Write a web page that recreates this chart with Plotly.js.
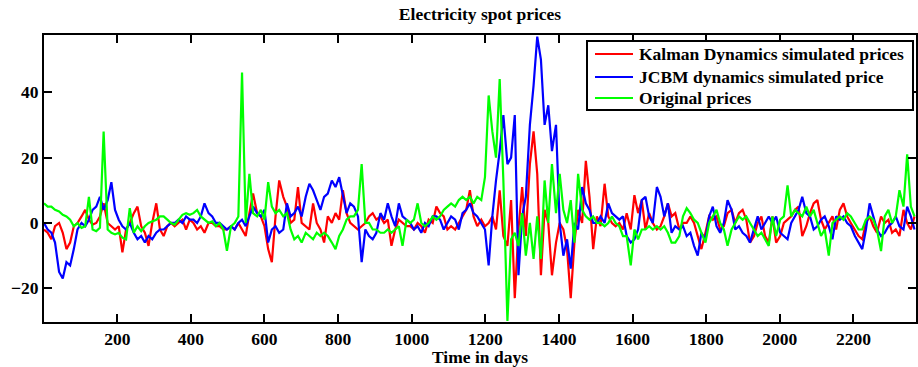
<!DOCTYPE html>
<html>
<head>
<meta charset="utf-8">
<script src="https://cdn.plot.ly/plotly-3.0.1.min.js"></script>
<style>html,body{margin:0;padding:0;background:#fff;}#chart{width:918px;height:367px;}</style>
</head>
<body>
<div id="chart"></div>
<script>
// Series names
const seriesNames = ["Kalman Dynamics simulated prices", "JCBM dynamics simulated price", "Original prices"];
// Sampling of the day axis (every ~10 days)
const dayStart = 1;
const dayStep = 10.15;
const xTickVals = [200, 400, 600, 800, 1000, 1200, 1400, 1600, 1800, 2000, 2200];
const yTickVals = [-20, 0, 20, 40];

const kalman = [
  -2,-3,-5,-1,0,-3,-8,-6,-1,0, 2,4,1,-0.5,0,2,6,0,-1,-2, -1,-9,-2,0,3,5,-1,-3,-7,0, 6,-2,-4,-1,0,-1,0,1,-2,1,
  0,-2,-1,-3,0,0,-1,-1,-2,-2, -1,-2,0,-2,-4,3,9,3,2,-1, -8,-12,2,13,8,5,0,1,11,0, -1,-2,6,0,-2,-6,2,0,3,
  1,10,3,0,-1,-2,-1,0,2,3, 1,2,0,1,-7,-2,1,0,-1,-1, -2,0,-1,-3,1,0,5,3,2,-2, -1,-2,0,2,4,10,2,-1,
  1,-1,0,2,-2,10,-4,-7,7,-23, -2,11,-4,18,28,15,-16,4,0,-16, -6,0,-2,-8,-23,-6,4,0,19,8, -8,2,-1,12,2,0,-1,0,-2,
  3,-2,8.5,3,7,-2,3,0,-2,-1, 2,6,2,3,-2,0,0,2,0,-4, -8,-3,2,1,2,-2,-1,3,4,0, 3,4,1,-6,-4,0,2,-4,-6,
  2,-6,-4,0,1,2,4,5,-4,-1, 3,6,7,1,-2,0,2,-2,4,6, 2,0,-2,-4,-5,0,2,-1,-3,2, 0,1,-3,-2,-4,4,0,-2,2
];

const jcbm = [
  0,-2,-3,-6,-15,-17,-12,-13,-8,-2, 0,-1,1,4,5,8,4,7,12.5,4, 1,-1,-2,0,-3,-5,-4,-6,-4,-5, -3,-2,-2,-1,0,0,1,0,2,1,
  1,0,2,6,3,2,0,0,-1,-2, -1,-2,0,1,-1,2,5,3,2,4, -6,-2,-1,-3,-2,6,2,3,5,2, 8,12,10,7,4,8,9,13,11,
  14,8,3,6,5,2,-12,-2,-4,-5, -3,3,1,6,2,-1,6,2,1,0, -2,-1,-3,0,-1,2,2,1,-2,0, 2,1,-2,3,4,6,3,2,
  0,-2,-13,2,13,22,33,18,20,33, -16,2,8,30,42,57,50,30,36,22, 30,0,-10,-5,-14,0,-2,11,6,4, 0,0,2,0,6,3,2,1,2,
  -4,-6,-5,-2,7,8,2,0,11,8, 2,6,-3,-1,-2,-1,-4,-3,-7,-10, -3,-5,2,5,-1,-3,0,7,4,-2, -1,-3,-4,-6,-2,2,-2,0,2,
  0,2,-3,-4,-5,0,2,4,8,3, 2,-2,-1,1,2,-1,-5,2,1,2, 0,-1,-4,-6,-8,-2,6,2,-2,-4, -3,-1,0,2,-1,-2,5,2,-2
];

const original = [
  6,5,5,4,3.5,2.5,2,1,-1,0, -1.5,-1,8,-2,-2.5,-1.5,28,-2,-3,-3.5, -3,-4.5,-5,4.5,-3,-1,-2.5,-1,0,0.5, 1,2,2,1,0,-0.5,1,2.5,3,2.5,
  3,4,2,1,0,0.5,-1,0,-2,-8.5, -1,0,2,46,0,15,3,2,4,1, 12.5,5,3,4,2,3,-2,-5,-4,-6, -3,-4,-5,-3,-4,-3,-4,-6,-8,
  -4,-2,1,2,2,4,18,0,0,-2, -2,-3,-3,-2,-3,-2,-1,-7,1,0, 1,6,0,-1,0,2,1,2,4,5, 6,5,7,8,7,8,6,8,
  7,14,39,28,20,44,13,-30,-5,-3, -7,3,-10,0,-11,2,-11,13,0,18, 3,15,4,0,7,-6,15,4,2,1, 2,0,0,-1,0,2,0,-1,-4,
  -4,-13,-2,-5,-2,-2,-1,-2,-1,-2, -1,-3,-6,-6,-4,2,4.5,3,1,0, -3,-6,0,2,4,0,-2,-7,-2,0, 2,1,2,0,-2,-4,-3,-5,-7,
  2,-4,1,2,11.5,2,4,3,2,5, 2,4,0,-4,-2,-10,0,1,2,1, 3,2,0,-2,-2,1,2,1,-2,-8.6, 2,4,0,2,10,5,21,5,2
];

const days = kalman.map((_, i) => Math.round(dayStart + i * dayStep));

const FONT = '"Liberation Serif", "Times New Roman", Times, serif';
const colors = ['#ff0000', '#0000ff', '#00ff00'];
const allSeries = [kalman, jcbm, original];

const traces = allSeries.map((vals, k) => ({
  x: days,
  y: vals,
  type: 'scatter',
  mode: 'lines',
  name: seriesNames[k],
  line: {color: colors[k], width: 2.2}
}));

const axisCommon = {
  showline: true, linecolor: '#000', linewidth: 2, mirror: 'allticks',
  ticks: 'inside', ticklen: 8, tickwidth: 2, tickcolor: '#000',
  showgrid: false, zeroline: false,
  tickfont: {family: FONT, size: 17.5, color: '#000', weight: 'bold'}
};

// Legend box drawn in paper coordinates (position/style only)
const M = {l: 44, r: 2, t: 35, b: 45};
const PW = 918 - M.l - M.r, PH = 367 - M.t - M.b;
const px = X => (X - M.l) / PW;
const py = Y => 1 - (Y - M.t) / PH;
const legBox = {x0: 587, x1: 913, y0: 41, y1: 110};
const legRows = [54, 77, 98];
const shapes = [{
  type: 'rect', xref: 'paper', yref: 'paper', layer: 'above',
  x0: px(legBox.x0), x1: px(legBox.x1), y0: py(legBox.y1), y1: py(legBox.y0),
  line: {color: '#000', width: 2}, fillcolor: '#fff'
}];
const annotations = [];
seriesNames.forEach((nm, k) => {
  shapes.push({
    type: 'line', xref: 'paper', yref: 'paper', layer: 'above',
    x0: px(595), x1: px(633), y0: py(legRows[k]), y1: py(legRows[k]),
    line: {color: colors[k], width: 2}
  });
  annotations.push({
    xref: 'paper', yref: 'paper', x: px(637), y: py(legRows[k]),
    xanchor: 'left', yanchor: 'middle', showarrow: false, text: nm,
    font: {family: FONT, size: 17.5, color: '#000', weight: 'bold'}
  });
});

const layout = {
  width: 918, height: 367,
  margin: M,
  paper_bgcolor: '#fff', plot_bgcolor: '#fff',
  title: {
    text: 'Electricity spot prices',
    font: {family: FONT, size: 17.5, color: '#000', weight: 'bold'},
    x: 0.5, xref: 'paper', xanchor: 'center',
    y: 0.962, yref: 'container', yanchor: 'middle'
  },
  xaxis: Object.assign({}, axisCommon, {
    range: [1, 2370], tickmode: 'array', tickvals: xTickVals,
    title: {text: 'Time in days', font: {family: FONT, size: 17.5, color: '#000', weight: 'bold'}, standoff: 4}
  }),
  yaxis: Object.assign({}, axisCommon, {
    range: [-30.3, 57.5], tickmode: 'array', tickvals: yTickVals
  }),
  showlegend: false,
  shapes: shapes,
  annotations: annotations
};

Plotly.newPlot('chart', traces, layout, {displayModeBar: false, staticPlot: true});
</script>
</body>
</html>
